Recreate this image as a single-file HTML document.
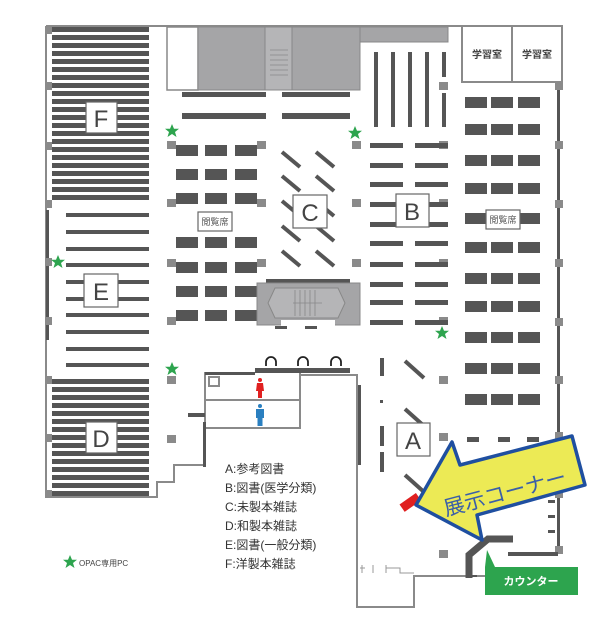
<!DOCTYPE html>
<html><head><meta charset="utf-8"><style>
body{margin:0;background:#fff}
svg{display:block}
text{font-family:"Liberation Sans","Noto Sans CJK JP",sans-serif}
</style></head><body>
<svg width="606" height="626" viewBox="0 0 606 626" xmlns="http://www.w3.org/2000/svg">
<defs>
<polygon id="st" points="0,-7 2,-2.2 7,-2.2 3,1 4.5,6 0,3 -4.5,6 -3,1 -7,-2.2 -2,-2.2" fill="#2da44e"/>
</defs>
<!-- outer walls -->
<g fill="none" stroke="#8a8a8a" stroke-width="2">
<polyline points="46,26 462,26"/>
<polyline points="46,26 46,497 157,497 157,482 174,482 174,465 205,465"/>
<rect x="462" y="26" width="100" height="56"/>
<line x1="512" y1="26" x2="512" y2="82"/>
<polyline points="300,375 357,375 357,607 414,607 414,576 485,576"/>
<polyline points="205,372 205,428 300,428 300,372"/>
<line x1="205" y1="400" x2="300" y2="400"/>
<rect x="209" y="377" width="10" height="9"/>
</g>
<g fill="#555">
<rect x="46" y="210" width="3" height="130"/>
<rect x="557" y="82" width="3" height="470"/>
<rect x="203" y="422" width="3" height="45"/>
<rect x="188" y="413" width="17" height="4"/>
<rect x="255" y="368" width="95" height="5"/>
<rect x="205" y="372" width="50" height="3"/>
<rect x="358" y="385" width="3" height="80"/>
<rect x="470" y="575" width="7" height="2"/>
</g>
<!-- pillars on walls -->
<g fill="#8a8a8a">
<rect x="45" y="26" width="7" height="8"/><rect x="45" y="82" width="7" height="8"/><rect x="45" y="142" width="7" height="8"/><rect x="45" y="200" width="7" height="8"/><rect x="45" y="258" width="7" height="8"/><rect x="45" y="317" width="7" height="8"/><rect x="45" y="376" width="7" height="8"/><rect x="45" y="434" width="7" height="8"/><rect x="45" y="490" width="7" height="8"/>
<rect x="555" y="82" width="8" height="8"/><rect x="555" y="141" width="8" height="8"/><rect x="555" y="200" width="8" height="8"/><rect x="555" y="259" width="8" height="8"/><rect x="555" y="318" width="8" height="8"/><rect x="555" y="376" width="8" height="8"/><rect x="555" y="432" width="8" height="8"/><rect x="555" y="490" width="8" height="8"/><rect x="555" y="546" width="8" height="8"/>
<rect x="167" y="141" width="9" height="8"/><rect x="257" y="141" width="9" height="8"/><rect x="167" y="199" width="9" height="8"/><rect x="257" y="199" width="9" height="8"/><rect x="167" y="259" width="9" height="8"/><rect x="257" y="259" width="9" height="8"/><rect x="167" y="317" width="9" height="8"/>
<rect x="167" y="376" width="9" height="8"/><rect x="167" y="435" width="9" height="8"/>
<rect x="352" y="141" width="9" height="8"/><rect x="352" y="199" width="9" height="8"/><rect x="352" y="259" width="9" height="8"/>
<rect x="439" y="82" width="9" height="8"/><rect x="439" y="141" width="9" height="8"/><rect x="439" y="199" width="9" height="8"/><rect x="439" y="259" width="9" height="8"/><rect x="439" y="317" width="9" height="8"/>
<rect x="439" y="376" width="9" height="8"/><rect x="439" y="433" width="9" height="8"/><rect x="439" y="550" width="9" height="8"/>
</g>
<!-- F shelves -->
<g fill="#555">
<rect x="52" y="27" width="97" height="5"/><rect x="52" y="35" width="97" height="5"/><rect x="52" y="43" width="97" height="5"/><rect x="52" y="51" width="97" height="5"/><rect x="52" y="59" width="97" height="5"/><rect x="52" y="67" width="97" height="5"/><rect x="52" y="75" width="97" height="5"/><rect x="52" y="83" width="97" height="5"/><rect x="52" y="91" width="97" height="5"/><rect x="52" y="99" width="97" height="5"/><rect x="52" y="107" width="97" height="5"/><rect x="52" y="115" width="97" height="5"/><rect x="52" y="123" width="97" height="5"/><rect x="52" y="131" width="97" height="5"/><rect x="52" y="139" width="97" height="5"/><rect x="52" y="147" width="97" height="5"/><rect x="52" y="155" width="97" height="5"/><rect x="52" y="163" width="97" height="5"/><rect x="52" y="171" width="97" height="5"/><rect x="52" y="179" width="97" height="5"/><rect x="52" y="187" width="97" height="5"/><rect x="52" y="195" width="97" height="5"/>
<!-- E -->
<rect x="66" y="213" width="83" height="4"/><rect x="66" y="230" width="83" height="4"/><rect x="66" y="247" width="83" height="4"/><rect x="66" y="263" width="83" height="4"/><rect x="66" y="280" width="83" height="4"/><rect x="66" y="297" width="83" height="4"/><rect x="66" y="313" width="83" height="4"/><rect x="66" y="330" width="83" height="4"/><rect x="66" y="347" width="83" height="4"/><rect x="66" y="363" width="83" height="4"/>
<!-- D -->
<rect x="52" y="379" width="97" height="5"/><rect x="52" y="387" width="97" height="5"/><rect x="52" y="395" width="97" height="5"/><rect x="52" y="403" width="97" height="5"/><rect x="52" y="411" width="97" height="5"/><rect x="52" y="419" width="97" height="5"/><rect x="52" y="427" width="97" height="5"/><rect x="52" y="435" width="97" height="5"/><rect x="52" y="443" width="97" height="5"/><rect x="52" y="451" width="97" height="5"/><rect x="52" y="459" width="97" height="5"/><rect x="52" y="467" width="97" height="5"/><rect x="52" y="475" width="97" height="5"/><rect x="52" y="483" width="97" height="5"/><rect x="52" y="491" width="97" height="5"/>
</g>
<g fill="#fff" stroke="#666" stroke-width="1.2">
<rect x="86" y="102" width="31" height="31"/><rect x="84" y="274" width="34" height="33"/><rect x="86" y="422" width="31" height="31"/>
</g>
<g font-size="24" fill="#444" text-anchor="middle">
<text x="101" y="127">F</text><text x="101" y="300">E</text><text x="101" y="447">D</text>
</g>
<!-- top block -->
<rect x="167" y="27" width="31" height="63" fill="#fff" stroke="#888" stroke-width="1.5"/>
<rect x="198" y="27" width="67" height="63" fill="#a5a5a7" stroke="#888"/>
<rect x="265" y="27" width="27" height="63" fill="#b5b5b7" stroke="#888"/>
<g stroke="#888" stroke-width="0.8"><line x1="270" y1="50" x2="288" y2="50"/><line x1="270" y1="55" x2="288" y2="55"/><line x1="270" y1="60" x2="288" y2="60"/><line x1="270" y1="65" x2="288" y2="65"/><line x1="270" y1="70" x2="288" y2="70"/><line x1="270" y1="75" x2="288" y2="75"/></g>
<rect x="292" y="27" width="68" height="63" fill="#a5a5a7" stroke="#888"/>
<rect x="360" y="27" width="88" height="15" fill="#a5a5a7" stroke="#888"/>
<g fill="#555">
<rect x="182" y="92" width="84" height="5"/><rect x="282" y="92" width="68" height="5"/>
<rect x="182" y="113" width="84" height="6"/><rect x="282" y="113" width="68" height="6"/>
<!-- left reading desks -->
<g id="dr"><rect x="176" y="145" width="22" height="11"/><rect x="205" y="145" width="22" height="11"/><rect x="235" y="145" width="22" height="11"/></g>
<use href="#dr" y="24"/><use href="#dr" y="48"/><use href="#dr" y="92"/><use href="#dr" y="117"/><use href="#dr" y="141"/><use href="#dr" y="165"/>
<!-- B vertical -->
<rect x="374" y="52" width="4" height="75"/><rect x="391" y="52" width="4" height="75"/><rect x="408" y="52" width="4" height="75"/><rect x="425" y="52" width="4" height="75"/><rect x="442" y="52" width="4" height="25"/><rect x="442" y="93" width="4" height="34"/>
<g id="br"><rect x="370" y="143" width="33" height="5"/><rect x="415" y="143" width="33" height="5"/></g>
<use href="#br" y="20"/><use href="#br" y="39"/><use href="#br" y="59"/><use href="#br" y="79"/><use href="#br" y="98"/><use href="#br" y="119"/><use href="#br" y="139"/><use href="#br" y="157"/><use href="#br" y="177"/>
<!-- right desks -->
<g id="rr"><rect x="465" y="97" width="22" height="11"/><rect x="491" y="97" width="22" height="11"/><rect x="518" y="97" width="22" height="11"/></g>
<use href="#rr" y="27"/><use href="#rr" y="58"/><use href="#rr" y="86"/><use href="#rr" y="116"/><use href="#rr" y="145"/><use href="#rr" y="176"/><use href="#rr" y="204"/><use href="#rr" y="235"/><use href="#rr" y="266"/><use href="#rr" y="297"/>
<rect x="266" y="279" width="84" height="4"/>
<rect x="275" y="326" width="12" height="3"/><rect x="305" y="326" width="12" height="3"/>
</g>
<!-- C diagonals -->
<g stroke="#555" stroke-width="4">
<line x1="282" y1="152" x2="300" y2="167"/><line x1="316" y1="152" x2="334" y2="167"/>
<line x1="282" y1="176" x2="300" y2="191"/><line x1="316" y1="176" x2="334" y2="191"/>
<line x1="282" y1="201" x2="300" y2="216"/><line x1="316" y1="201" x2="334" y2="216"/>
<line x1="282" y1="226" x2="300" y2="241"/><line x1="316" y1="226" x2="334" y2="241"/>
<line x1="282" y1="251" x2="300" y2="266"/><line x1="316" y1="251" x2="334" y2="266"/>
<!-- A -->
<line x1="405" y1="361" x2="424" y2="378"/><line x1="405" y1="409" x2="424" y2="426"/><line x1="405" y1="434" x2="424" y2="451"/><line x1="405" y1="475" x2="424" y2="492"/>
</g>
<g fill="#555"><rect x="380" y="358" width="4" height="18"/><rect x="380" y="400" width="3" height="3"/><rect x="380" y="426" width="4" height="20"/><rect x="380" y="452" width="4" height="20"/>
<rect x="467" y="437" width="12" height="5"/><rect x="498" y="437" width="12" height="5"/><rect x="527" y="437" width="12" height="5"/>
<rect x="548" y="500" width="7" height="3"/><rect x="548" y="515" width="7" height="3"/><rect x="548" y="530" width="7" height="3"/><rect x="508" y="552" width="50" height="4"/>
</g>
<!-- central stair -->
<rect x="257" y="283" width="103" height="42" fill="#a5a5a7" stroke="#888"/>
<polygon points="275,288 338,288 345,303 338,318 275,318 268,303" fill="#b5b5b7" stroke="#888"/>
<g stroke="#888" stroke-width="0.8"><line x1="295" y1="290" x2="295" y2="316"/><line x1="300" y1="290" x2="300" y2="316"/><line x1="305" y1="290" x2="305" y2="316"/><line x1="310" y1="290" x2="310" y2="316"/><line x1="315" y1="290" x2="315" y2="316"/><line x1="293" y1="303" x2="322" y2="303"/></g>
<rect x="281" y="320" width="54" height="6" fill="#fff"/>
<!-- labels boxes -->
<g fill="#fff" stroke="#666" stroke-width="1.2">
<rect x="293" y="195" width="34" height="33"/><rect x="396" y="194" width="33" height="33"/><rect x="397" y="423" width="33" height="33"/>
<rect x="198" y="212" width="34" height="19"/><rect x="486" y="210" width="34" height="19"/>
</g>
<g font-size="24" fill="#444" text-anchor="middle">
<text x="310" y="221">C</text><text x="412" y="220">B</text><text x="413" y="449">A</text>
</g>
<g font-size="9" fill="#555" text-anchor="middle">
<text x="215" y="225">閲覧席</text><text x="503" y="223">閲覧席</text>
<text x="487" y="58" font-size="10" font-weight="bold" fill="#444">学習室</text><text x="537" y="58" font-size="10" font-weight="bold" fill="#444">学習室</text>
</g>
<!-- headphones -->
<g fill="none" stroke="#222" stroke-width="1.8">
<path d="M266,366 v-4 a5,5 0 0 1 10,0 v4"/><path d="M298,366 v-4 a5,5 0 0 1 10,0 v4"/><path d="M331,366 v-4 a5,5 0 0 1 10,0 v4"/>
</g>
<!-- toilets -->
<g fill="#e02020"><circle cx="260" cy="380" r="2"/><path d="M257,383 h6 l1,8 h-2 v7 h-4 v-7 h-2z"/></g>
<g fill="#2a7fc0"><circle cx="260" cy="406" r="2"/><path d="M256,409 h8 v9 h-1.5 v8 h-5 v-8 h-1.5z"/></g>
<!-- bottom details -->
<g stroke="#999" stroke-width="1" fill="none"><path d="M360,568 h5 M362,565 v8 M373,565 v8 M386,565 v8 M386,568 h14 v5 h14"/></g>
<!-- legend -->
<g font-size="12" fill="#333">
<text x="225" y="473">A:参考図書</text><text x="225" y="492">B:図書(医学分類)</text><text x="225" y="511">C:未製本雑誌</text><text x="225" y="530">D:和製本雑誌</text><text x="225" y="549">E:図書(一般分類)</text><text x="225" y="568">F:洋製本雑誌</text>
</g>
<use href="#st" x="70" y="562"/>
<text x="79" y="566" font-size="8" fill="#444">OPAC専用PC</text>
<use href="#st" x="172" y="131"/><use href="#st" x="355" y="133"/><use href="#st" x="58" y="262"/><use href="#st" x="442" y="333"/><use href="#st" x="172" y="369"/>
<!-- red bar -->
<rect x="400" y="498" width="20" height="9" fill="#e02020" transform="rotate(-35 410 502)"/>
<!-- counter -->
<polyline points="469,578 469,555 488,539 513,539" fill="none" stroke="#555" stroke-width="7"/>
<polygon points="487,550 485,567 495,567" fill="#2da44e"/>
<rect x="485" y="567" width="93" height="28" fill="#2da44e"/>
<text x="531" y="585" font-size="11" font-weight="bold" fill="#fff" text-anchor="middle">カウンター</text>
<!-- arrow -->
<polygon points="416,505 452,442 460,465 572,436 585,485 477,515 482,540" fill="#ecea55" stroke="#1f4fa0" stroke-width="3.5" stroke-linejoin="round"/>
<text x="505" y="500" font-size="21" fill="#3a5fa8" text-anchor="middle" transform="rotate(-15 505 493)" font-family="Liberation Serif,'Noto Serif CJK SC',serif">展示コーナー</text>
</svg>
</body></html>
